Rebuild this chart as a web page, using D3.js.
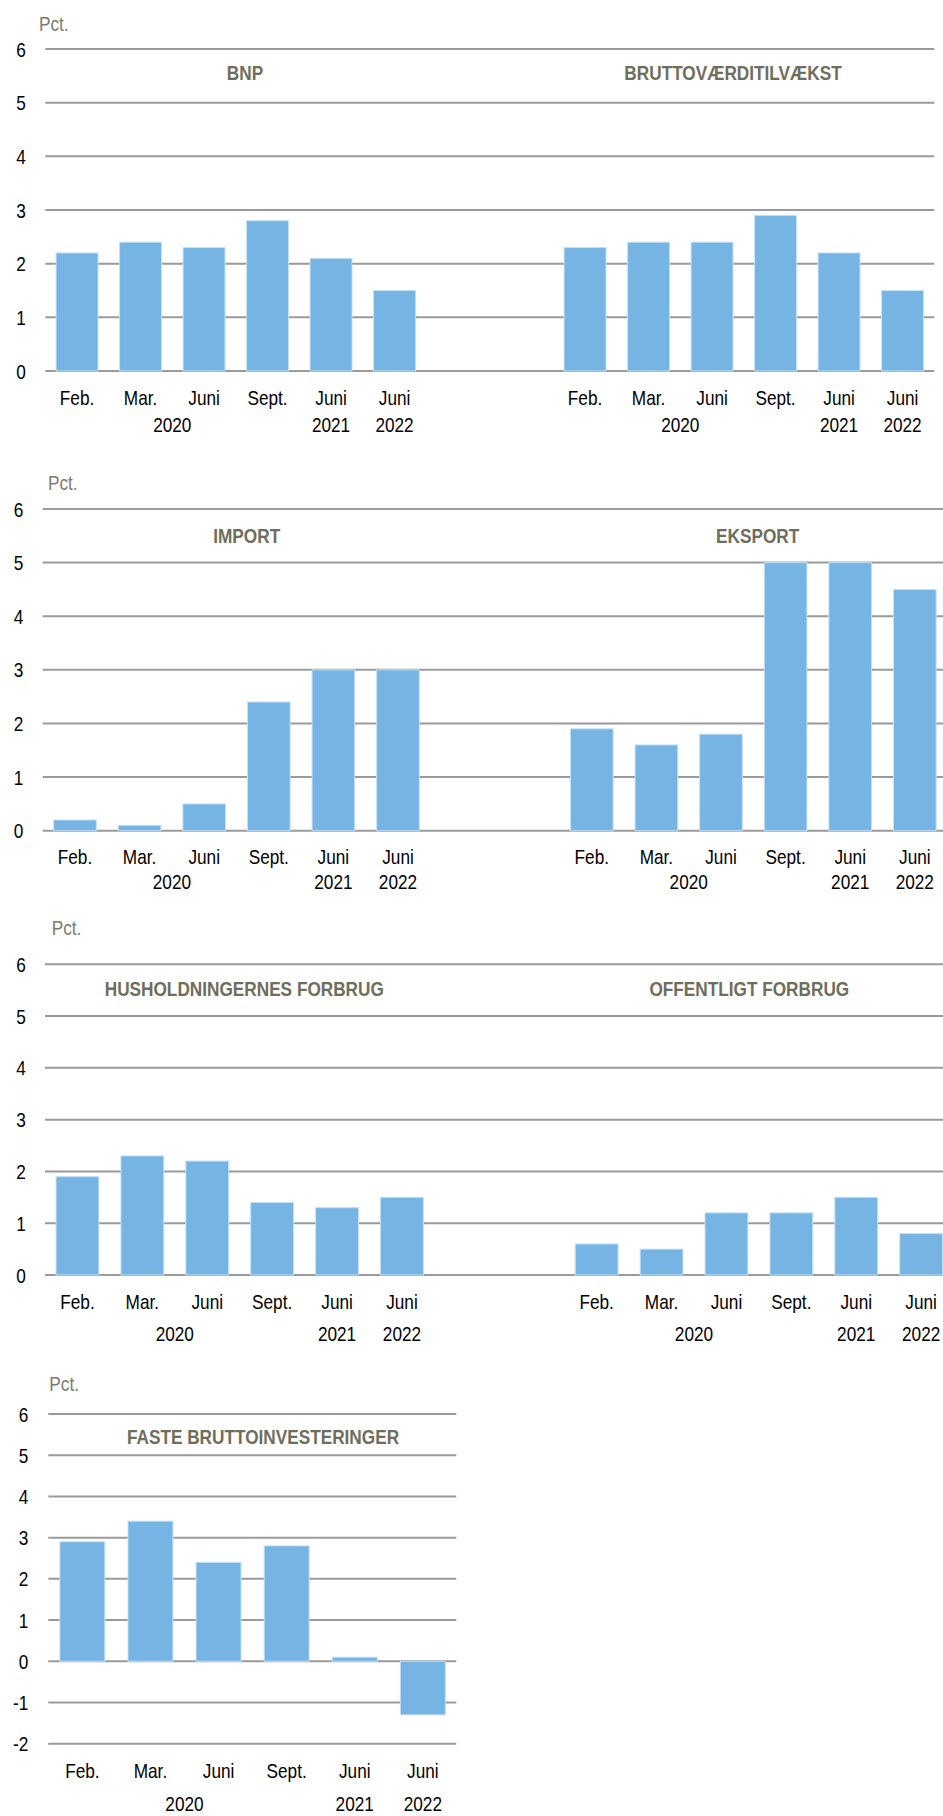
<!DOCTYPE html>
<html>
<head>
<meta charset="utf-8">
<script src="https://cdn.jsdelivr.net/npm/d3@7"></script>
<style>
  html, body { margin: 0; padding: 0; background: #ffffff; }
  svg { display: block; }
  text { font-family: "Liberation Sans", Arial, sans-serif; }
</style>
</head>
<body>
<svg id="chart" width="943" height="1816"></svg>
<script>
// ---------- DATA ----------
const categories = ["Feb.", "Mar.", "Juni", "Sept.", "Juni", "Juni"];
const years = ["2020", "2021", "2022"];
const bnp       = [2.2, 2.4, 2.3, 2.8, 2.1, 1.5];
const bvt       = [2.3, 2.4, 2.4, 2.9, 2.2, 1.5];
const importV   = [0.2, 0.1, 0.5, 2.4, 3.0, 3.0];
const eksport   = [1.9, 1.6, 1.8, 5.0, 5.0, 4.5];
const hush      = [1.9, 2.3, 2.2, 1.4, 1.3, 1.5];
const offentlig = [0.6, 0.5, 1.2, 1.2, 1.5, 0.8];
const faste     = [2.9, 3.4, 2.4, 2.8, 0.1, -1.3];
const ticksMain  = [0, 1, 2, 3, 4, 5, 6];
const ticksFaste = [-2, -1, 0, 1, 2, 3, 4, 5, 6];
const unitLabel = "Pct.";

// ---------- LAYOUT ----------
const rows = [
  { x0: 45.3, x1: 934.3, step: 63.5, yTop: 49, yBot: 371, dom: [0, 6], ticks: ticksMain,
    pctX: 39, pctY: 23, tickRight: 25.7, titleY: 72, labelY: 397, yearY: 424,
    panels: [ { title: "BNP", titleX: 245, data: bnp, slot: 0 },
              { title: "BRUTTOVÆRDITILVÆKST", titleX: 733, data: bvt, slot: 8 } ] },
  { x0: 42.7, x1: 943, step: 64.6, yTop: 509, yBot: 830.7, dom: [0, 6], ticks: ticksMain,
    pctX: 48, pctY: 482, tickRight: 23.3, titleY: 535.7, labelY: 856.7, yearY: 881.7,
    panels: [ { title: "IMPORT", titleX: 246.7, data: importV, slot: 0 },
              { title: "EKSPORT", titleX: 757.7, data: eksport, slot: 8 } ] },
  { x0: 45, x1: 943, step: 64.9, yTop: 964.3, yBot: 1275, dom: [0, 6], ticks: ticksMain,
    pctX: 51.7, pctY: 927.7, tickRight: 25.7, titleY: 988.3, labelY: 1301, yearY: 1333.3,
    panels: [ { title: "HUSHOLDNINGERNES FORBRUG", titleX: 244.3, data: hush, slot: 0 },
              { title: "OFFENTLIGT FORBRUG", titleX: 749.3, data: offentlig, slot: 8 } ] },
  { x0: 48.3, x1: 456.3, step: 68.1, yTop: 1414, yBot: 1743.7, dom: [-2, 6], ticks: ticksFaste,
    pctX: 49.3, pctY: 1383.3, tickRight: 28.3, titleY: 1436.7, labelY: 1770, yearY: 1803.5,
    panels: [ { title: "FASTE BRUTTOINVESTERINGER", titleX: 263, data: faste, slot: 0 } ] }
];

const barColor = "#76B5E3";
const barEdge = "#c4e0f5";
const gridColor = "#9a9a9a";
const titleColor = "#6e6e5c";
const pctColor = "#7b7b6d";
const FS = 21;
const NARROW = 0.82;

const svg = d3.select("#chart");

// place condensed text: anchor point (x, y) is the vertical centre of capitals
function narrow(sel, fx, fy) {
  return sel
    .attr("x", 0).attr("y", 0).attr("dy", "0.36em")
    .attr("font-size", FS)
    .attr("transform", (d, i) => `translate(${fx(d, i)},${fy(d, i)}) scale(${NARROW},1)`);
}

rows.forEach(r => {
  const g = svg.append("g");
  const y = d3.scaleLinear().domain(r.dom).range([r.yBot, r.yTop]);

  // gridlines
  g.selectAll("line.grid").data(r.ticks).join("line")
    .attr("x1", r.x0).attr("x2", r.x1)
    .attr("y1", d => y(d)).attr("y2", d => y(d))
    .attr("stroke", gridColor).attr("stroke-width", 2);

  // y tick labels
  narrow(g.selectAll("text.ytick").data(r.ticks).join("text"), () => r.tickRight, d => y(d))
    .attr("text-anchor", "end").attr("fill", "#000")
    .text(d => d);

  // unit label
  narrow(g.append("text").datum(unitLabel), () => r.pctX, () => r.pctY)
    .attr("fill", pctColor).text(d => d);

  r.panels.forEach(p => {
    const start = r.x0 + p.slot * r.step;
    const x = d3.scaleBand().domain(d3.range(categories.length))
      .range([start, start + categories.length * r.step])
      .paddingInner(0.34).paddingOuter(0.17);

    // bars
    g.selectAll(null).data(p.data).join("rect")
      .attr("x", (d, i) => x(i))
      .attr("width", x.bandwidth())
      .attr("y", d => y(Math.max(0, d)))
      .attr("height", d => Math.abs(y(d) - y(0)))
      .attr("fill", barColor)
      .attr("stroke", barEdge).attr("stroke-width", 1);

    // title
    narrow(g.append("text").datum(p.title), () => p.titleX, () => r.titleY)
      .attr("text-anchor", "middle").attr("font-weight", "bold")
      .attr("fill", titleColor).text(d => d);

    // category labels
    narrow(g.selectAll(null).data(categories).join("text"),
           (d, i) => x(i) + x.bandwidth() / 2, () => r.labelY)
      .attr("text-anchor", "middle").attr("fill", "#000")
      .text(d => d);

    // year labels
    const yearPos = [
      (x(0) + x(3) + x.bandwidth()) / 2,
      x(4) + x.bandwidth() / 2,
      x(5) + x.bandwidth() / 2
    ];
    narrow(g.selectAll(null).data(years).join("text"),
           (d, i) => yearPos[i], () => r.yearY)
      .attr("text-anchor", "middle").attr("fill", "#000")
      .text(d => d);
  });
});
</script>
</body>
</html>
